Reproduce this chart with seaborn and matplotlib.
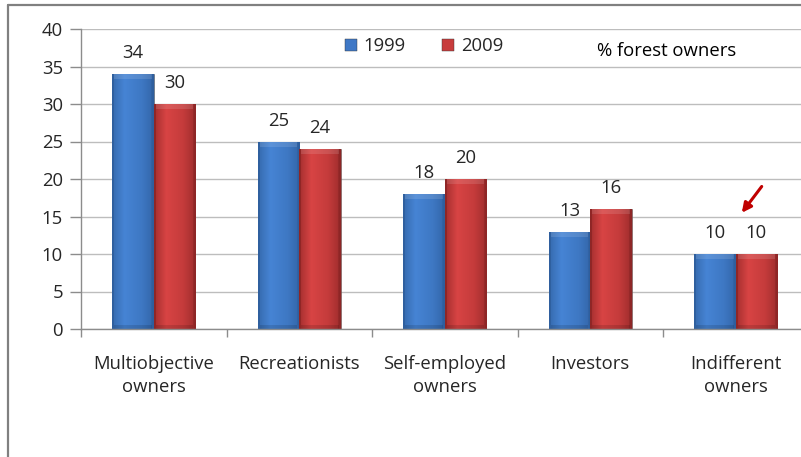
import numpy as np
import pandas as pd
import matplotlib
matplotlib.use("Agg")
import matplotlib.pyplot as plt
import seaborn as sns
from matplotlib.lines import Line2D
from matplotlib.colors import LinearSegmentedColormap

categories = ["Multiobjective\nowners", "Recreationists", "Self-employed\nowners",
              "Investors", "Indifferent\nowners"]
years = ["1999", "2009"]
values_1999 = [34, 25, 18, 13, 10]
values_2009 = [30, 24, 20, 16, 10]

df = pd.DataFrame({
    "group": categories * 2,
    "year": [years[0]] * 5 + [years[1]] * 5,
    "pct": values_1999 + values_2009,
})

sns.set_theme(style="white")
plt.rcParams["font.family"] = ["Open Sans", "DejaVu Sans"]
FS = 13.3

W, H = 801, 457
fig = plt.figure(figsize=(W / 100, H / 100), dpi=100)
# plot area in pixels: x from 81, category width 145.5; y from 29 (40) to 329 (0)
ax = fig.add_axes([81 / W, (H - 329) / H, 727.5 / W, 300 / H])

base = {"1999": "#3f78c6", "2009": "#c83c3c"}
sns.barplot(data=df, x="group", y="pct", hue="year", palette=base,
            width=0.57, ax=ax, legend=False, saturation=1)

grads = {
    "1999": LinearSegmentedColormap.from_list("b", ["#2f5f9e", "#4684d4", "#3e78c4", "#2f5f9e"]),
    "2009": LinearSegmentedColormap.from_list("r", ["#8e2626", "#d84444", "#c43b3b", "#8e2626"]),
}
grad = np.linspace(0, 1, 64).reshape(1, -1)
vert = np.linspace(0, 1, 64).reshape(-1, 1)
for i, cont in enumerate(ax.containers):
    cmap = grads[years[i]]
    for bar in cont:
        x0, y0 = bar.get_x(), bar.get_y()
        w, h = bar.get_width(), bar.get_height()
        img = np.clip(0.1 + 0.8 * grad, 0, 1) * np.ones_like(vert)
        img[:, :3] = 0.0
        img[:, -4:] = 1.0
        im = ax.imshow(img, cmap=cmap, vmin=0, vmax=1, aspect="auto",
                       extent=[x0, x0 + w, y0, y0 + h], origin="lower",
                       zorder=bar.get_zorder() + 0.1)
        im.set_clip_path(bar)
        # soft top bevel
        ax.fill_between([x0 + w * 0.05, x0 + w * 0.95], y0 + h - 0.7, y0 + h,
                        color="white", alpha=0.12, lw=0, zorder=bar.get_zorder() + 0.2)
        # darker base
        ax.fill_between([x0 + w * 0.05, x0 + w * 0.95], y0, y0 + 0.5,
                        color="black", alpha=0.12, lw=0, zorder=bar.get_zorder() + 0.2)
        bar.set_edgecolor("#555555")
        bar.set_linewidth(0.4)

for i, cont in enumerate(ax.containers):
    vals = values_1999 if i == 0 else values_2009
    for bar, v in zip(cont, vals):
        ax.annotate(f"{v}", (bar.get_x() + bar.get_width() / 2, v),
                    xytext=(0, 8.5), textcoords="offset points",
                    ha="center", va="bottom", fontsize=FS, color="#262626")

ax.set_xlim(-0.5, 4.5)
ax.set_ylim(0, 40)
ax.set_yticks(range(0, 41, 5))
ax.yaxis.grid(True, color="#bdbdbd", lw=1)
ax.set_axisbelow(True)
ax.set_xlabel("")
ax.set_ylabel("")
ax.set_xticks(range(5))
ax.set_xticklabels(categories, fontsize=FS, color="#262626", linespacing=1.35)
ax.set_xticks(np.arange(-0.5, 5, 1), minor=True)
ax.tick_params(axis="x", which="major", length=0, pad=19)
ax.tick_params(axis="x", which="minor", length=6, color="#8c8c8c", width=1, direction="out", bottom=True)
ax.tick_params(axis="y", length=8, color="#8c8c8c", width=1, direction="out", left=True,
               labelsize=FS, labelcolor="#262626", pad=5)
for s in ["top", "right"]:
    ax.spines[s].set_visible(False)
for s in ["left", "bottom"]:
    ax.spines[s].set_color("#8c8c8c")
    ax.spines[s].set_linewidth(1)

# arrow pointing at the last group
ax.annotate("", xy=(4.03, 15.2), xytext=(4.19, 19.3),
            arrowprops=dict(arrowstyle="-|>", color="#c00000", lw=2.2, mutation_scale=14))

# legend
handles = [Line2D([], [], marker="s", ls="", markersize=9, markerfacecolor=base[y],
                  markeredgecolor="#333333", markeredgewidth=0.3) for y in years]
fig.legend(handles, years, loc="center left", bbox_to_anchor=(325 / W, 1 - 46 / H),
           ncol=2, frameon=False, fontsize=FS, handletextpad=0.2, columnspacing=1.8,
           handlelength=1.0)
fig.text(597 / W, 1 - 51 / H, "% forest owners", fontsize=FS, color="#000000",
         ha="left", va="center")

# outer frame (top and left)
fig.add_artist(Line2D([8 / W, 1], [1 - 5 / H, 1 - 5 / H], color="#808080", lw=1.6,
                      transform=fig.transFigure))
fig.add_artist(Line2D([8 / W, 8 / W], [0, 1 - 5 / H], color="#808080", lw=1.6,
                      transform=fig.transFigure))

fig.savefig("out.png", dpi=100, facecolor="white")
